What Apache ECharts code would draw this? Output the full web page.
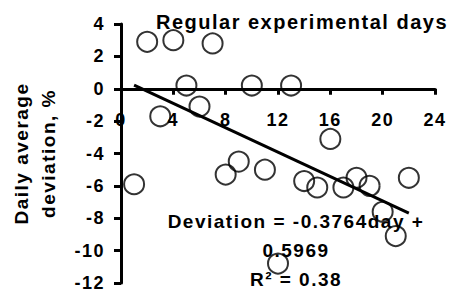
<!DOCTYPE html>
<html>
<head>
<meta charset="utf-8">
<script src="https://cdn.jsdelivr.net/npm/echarts@6/dist/echarts.min.js"></script>
<style>
html, body { margin: 0; padding: 0; background: #fff; }
#chart { width: 449px; height: 290px; }
#chart text { letter-spacing: 1.5px; }
</style>
</head>
<body>
<div id="chart"></div>
<script>
// values
var days = [1, 2, 3, 4, 5, 6, 7, 8, 9, 10, 11, 12, 13, 14, 15, 16, 17, 18, 19, 20, 21, 22]
var deviation = [-5.9, 2.9, -1.7, 3.0, 0.2, -1.1, 2.8, -5.3, -4.5, 0.2, -5.0, -10.8, 0.2, -5.7, -6.1, -3.1, -6.1, -5.5, -6.0, -7.6, -9.1, -5.5]
// linear trend as printed on the chart
var slope = -0.3764
var intercept = 0.5969
var rSquared = 0.38
var trendDays = [1, 22]

var xMin = 0, xMax = 24, xStep = 4
var yMin = -12, yMax = 4, yStep = 2

var font = 'Liberation Sans'

var points = days.map(function (d, i) { return [d, deviation[i]] })
var trend = trendDays.map(function (d) { return [d, slope * d + intercept] })

var gridTop = 24, gridBottom = 7
// the x axis crosses at deviation = 0: lift the bottom axis up to that level
var plotHeight = 290 - gridTop - gridBottom
var xAxisOffset = -plotHeight * (0 - yMin) / (yMax - yMin)

var chart = echarts.init(document.getElementById('chart'), null, { renderer: 'svg' })

var option = {
    backgroundColor: '#fff',
    animation: false,
    title: {
        text: 'Regular experimental days',
        left: 297,
        top: 7,
        textAlign: 'center',
        textStyle: { fontFamily: font, fontSize: 20, fontWeight: 'bold', color: '#000' }
    },
    grid: { left: 121, right: 14, top: gridTop, bottom: gridBottom, containLabel: false, outerBoundsMode: 'none' },
    xAxis: {
        type: 'value',
        position: 'bottom',
        offset: xAxisOffset,
        min: xMin,
        max: xMax,
        interval: xStep,
        splitLine: { show: false },
        axisLine: { show: true, onZero: false, lineStyle: { color: '#000', width: 3 } },
        axisTick: { show: true, length: 6, lineStyle: { color: '#000', width: 3 } },
        axisLabel: { margin: 22, color: '#000', fontFamily: font, fontSize: 18, fontWeight: 'bold' }
    },
    yAxis: {
        type: 'value',
        min: yMin,
        max: yMax,
        interval: yStep,
        name: 'Daily average\ndeviation, %',
        nameLocation: 'middle',
        nameRotate: 90,
        nameGap: 59,
        nameTextStyle: { fontFamily: font, fontSize: 19, fontWeight: 'bold', color: '#000', lineHeight: 27 },
        splitLine: { show: false },
        axisLine: { show: true, onZero: false, lineStyle: { color: '#000', width: 3 } },
        axisTick: { show: true, length: 7, lineStyle: { color: '#000', width: 3 } },
        axisLabel: { margin: 16, color: '#000', fontFamily: font, fontSize: 18, fontWeight: 'bold' }
    },
    graphic: [{
        type: 'text',
        x: 296,
        y: 250,
        z: 10,
        style: {
            text: 'Deviation = ' + slope + 'day +\n' + intercept + '\nR² = ' + rSquared,
            fill: '#000',
            font: 'bold 19px "' + font + '"',
            textAlign: 'center',
            textVerticalAlign: 'middle',
            lineHeight: 29
        }
    }],
    series: [{
        type: 'scatter',
        data: points,
        symbol: 'circle',
        symbolSize: 20,
        itemStyle: { color: 'rgba(0,0,0,0)', borderColor: '#000', borderWidth: 2 },
        z: 3
    }, {
        type: 'line',
        data: trend,
        symbol: 'none',
        lineStyle: { color: '#000', width: 3 },
        z: 4
    }]
}

chart.setOption(option)
</script>
</body>
</html>
